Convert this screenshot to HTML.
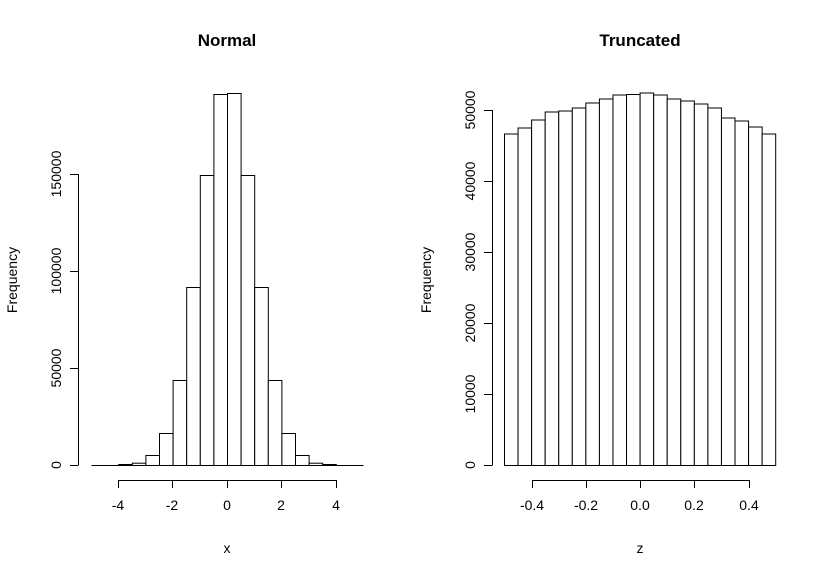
<!DOCTYPE html>
<html><head><meta charset="utf-8"><style>body{margin:0;background:#fff}svg{display:block}text{font-family:"Liberation Sans",sans-serif;fill:#000}</style></head><body>
<svg width="829" height="578" viewBox="0 0 829 578" xmlns="http://www.w3.org/2000/svg">
<g fill="#fff" stroke="#000" stroke-width="1">
<!-- left bars -->
<path d="M91.5 465.5H363.5"/>
<rect x="118.7" y="464.5" width="13.6" height="1"/>
<rect x="132.3" y="463.2" width="13.6" height="2.3"/>
<rect x="145.9" y="455.5" width="13.6" height="10"/>
<rect x="159.5" y="433.5" width="13.6" height="32"/>
<rect x="173.1" y="380.5" width="13.6" height="85"/>
<rect x="186.7" y="287.5" width="13.6" height="178"/>
<rect x="200.3" y="175.5" width="13.6" height="290"/>
<rect x="213.9" y="94.5" width="13.6" height="371"/>
<rect x="227.5" y="93.5" width="13.6" height="372"/>
<rect x="241.1" y="175.5" width="13.6" height="290"/>
<rect x="254.7" y="287.5" width="13.6" height="178"/>
<rect x="268.3" y="380.5" width="13.6" height="85"/>
<rect x="281.9" y="433.5" width="13.6" height="32"/>
<rect x="295.5" y="455.5" width="13.6" height="10"/>
<rect x="309.1" y="463.2" width="13.6" height="2.3"/>
<rect x="322.7" y="464.5" width="13.6" height="1"/>
</g>
<g fill="#fff" stroke="#000" stroke-width="1" id="r">
<rect x="504.5" y="134" width="13.56" height="331.5"/>
<rect x="518.06" y="128" width="13.56" height="337.5"/>
<rect x="531.62" y="120" width="13.56" height="345.5"/>
<rect x="545.18" y="112" width="13.56" height="353.5"/>
<rect x="558.74" y="111" width="13.56" height="354.5"/>
<rect x="572.3" y="108" width="13.56" height="357.5"/>
<rect x="585.86" y="103" width="13.56" height="362.5"/>
<rect x="599.42" y="99" width="13.56" height="366.5"/>
<rect x="612.98" y="95" width="13.56" height="370.5"/>
<rect x="626.54" y="94.5" width="13.56" height="371"/>
<rect x="640.1" y="93" width="13.56" height="372.5"/>
<rect x="653.66" y="95" width="13.56" height="370.5"/>
<rect x="667.22" y="99" width="13.56" height="366.5"/>
<rect x="680.78" y="101" width="13.56" height="364.5"/>
<rect x="694.34" y="104" width="13.56" height="361.5"/>
<rect x="707.9" y="108" width="13.56" height="357.5"/>
<rect x="721.46" y="118" width="13.56" height="347.5"/>
<rect x="735.02" y="121" width="13.56" height="344.5"/>
<rect x="748.58" y="127" width="13.56" height="338.5"/>
<rect x="762.14" y="134" width="13.56" height="331.5"/>
</g>
<g stroke="#000" stroke-width="1" fill="none">
<path d="M78.5 465V174M70 465.5H78.5M70 368.5H78.5M70 271.5H78.5M70 174.5H78.5"/>
<path d="M118.5 480.5H336.5M118.5 480v8M172.5 480v8M227.5 480v8M281.5 480v8M336.5 480v8"/>
<path d="M492.5 465V110M484 465.5H492.5M484 394.5H492.5M484 323.5H492.5M484 252.5H492.5M484 181.5H492.5M484 110.5H492.5"/>
<path d="M532.5 480.5H749.5M532.5 480v8M586.5 480v8M640.5 480v8M694.5 480v8M749.5 480v8"/>
</g>
<g font-size="14" text-anchor="middle">
<text x="227" y="46" font-weight="bold" font-size="17">Normal</text>
<text x="640" y="46" font-weight="bold" font-size="17">Truncated</text>
<text x="118" y="510">-4</text><text x="172" y="510">-2</text><text x="227" y="510">0</text><text x="281" y="510">2</text><text x="336" y="510">4</text>
<text x="227" y="553">x</text>
<text x="532" y="510">-0.4</text><text x="586" y="510">-0.2</text><text x="640" y="510">0.0</text><text x="694" y="510">0.2</text><text x="749" y="510">0.4</text>
<text x="640" y="553">z</text>
<g transform="rotate(-90)">
<text x="-465" y="61">0</text><text x="-368" y="61">50000</text><text x="-271" y="61">100000</text><text x="-174" y="61">150000</text>
<text x="-280" y="17">Frequency</text>
<text x="-465" y="475">0</text><text x="-394" y="475">10000</text><text x="-323" y="475">20000</text><text x="-252" y="475">30000</text><text x="-181" y="475">40000</text><text x="-110" y="475">50000</text>
<text x="-280" y="431">Frequency</text>
</g>
</g>
</svg>
</body></html>
